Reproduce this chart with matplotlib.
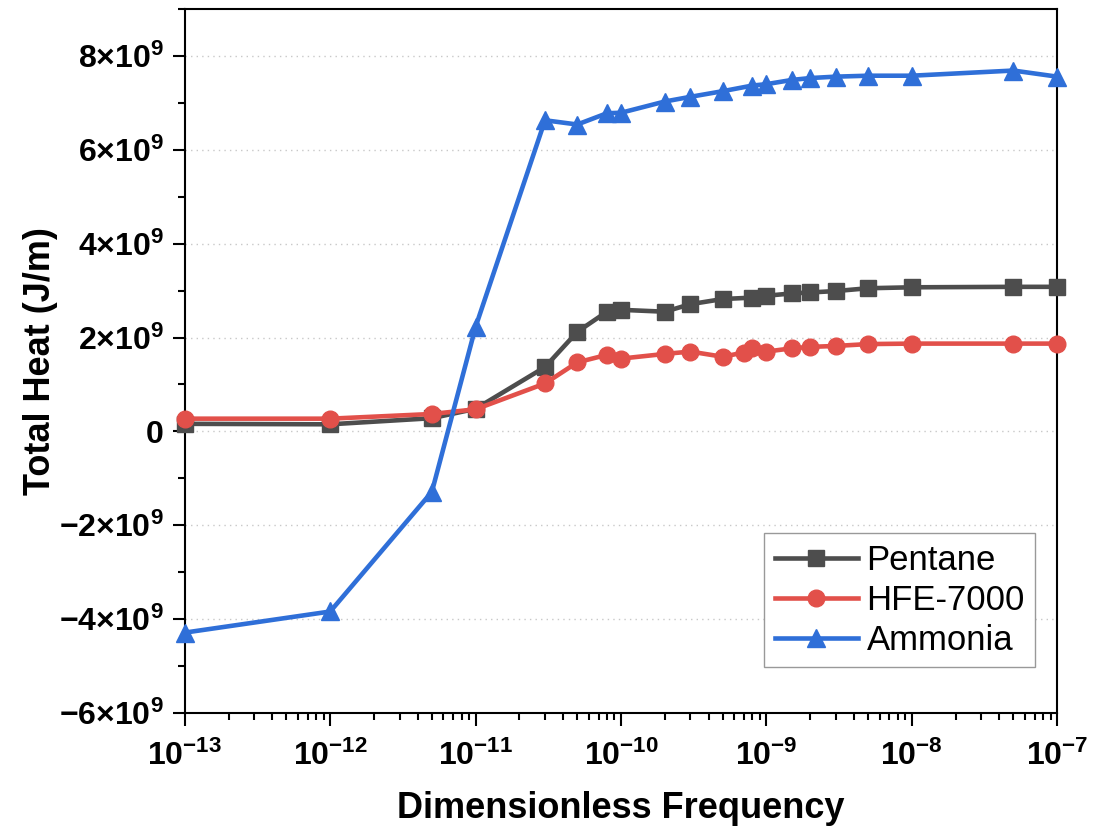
import matplotlib
matplotlib.use("Agg")
import matplotlib.pyplot as plt
import matplotlib.ticker as mticker

plt.rcParams.update({
    "font.family": ["Liberation Sans", "DejaVu Sans"],
    "font.weight": "bold",
    "mathtext.fontset": "custom",
    "mathtext.rm": "Liberation Sans:bold",
    "mathtext.bf": "Liberation Sans:bold",
    "mathtext.it": "Liberation Sans:bold:italic",
    "axes.linewidth": 1.5,
})

# ---- data (total heat in units of 1e9 J/m) -----------------------------------
freq_pentane = [1e-13, 1e-12, 5e-12, 1e-11, 3e-11, 5e-11, 8e-11, 1e-10, 2e-10, 3e-10,
                5e-10, 8e-10, 1e-9, 1.5e-9, 2e-9, 3e-9, 5e-9, 1e-8, 5e-8, 1e-7]
heat_pentane = [0.16, 0.15, 0.28, 0.48, 1.37, 2.12, 2.55, 2.59, 2.55, 2.71,
                2.82, 2.85, 2.89, 2.94, 2.96, 2.99, 3.05, 3.07, 3.08, 3.08]

freq_hfe = [1e-13, 1e-12, 5e-12, 1e-11, 3e-11, 5e-11, 8e-11, 1e-10, 2e-10, 3e-10,
            5e-10, 7e-10, 8e-10, 1e-9, 1.5e-9, 2e-9, 3e-9, 5e-9, 1e-8, 5e-8, 1e-7]
heat_hfe = [0.27, 0.27, 0.37, 0.47, 1.02, 1.47, 1.63, 1.55, 1.65, 1.70,
            1.59, 1.68, 1.77, 1.70, 1.77, 1.80, 1.82, 1.86, 1.87, 1.87, 1.87]

freq_ammonia = [1e-13, 1e-12, 5e-12, 1e-11, 3e-11, 5e-11, 8e-11, 1e-10, 2e-10, 3e-10,
                5e-10, 8e-10, 1e-9, 1.5e-9, 2e-9, 3e-9, 5e-9, 1e-8, 5e-8, 1e-7]
heat_ammonia = [-4.29, -3.84, -1.29, 2.23, 6.63, 6.54, 6.78, 6.79, 7.03, 7.13,
                7.25, 7.37, 7.40, 7.49, 7.53, 7.56, 7.58, 7.58, 7.69, 7.56]

SCALE = 1e9
series = [
    ("Pentane", freq_pentane, heat_pentane, "#4d4d4d", "s"),
    ("HFE-7000", freq_hfe, heat_hfe, "#e2504a", "o"),
    ("Ammonia", freq_ammonia, heat_ammonia, "#2f6fd8", "^"),
]

fig = plt.figure(figsize=(11.07, 8.26), dpi=100)
ax = fig.add_axes([0.167, 0.137, 0.788, 0.852])

for label, xs, ys, color, mk in series:
    ax.plot(xs, [v * SCALE for v in ys], color=color, marker=mk, lw=3.3,
            ms=12 if mk != "^" else 13, label=label, zorder=3, clip_on=False)

ax.set_xscale("log")
ax.set_xlim(1e-13, 1e-7)
ax.set_ylim(-6e9, 9e9)

ax.xaxis.set_major_locator(mticker.LogLocator(base=10, numticks=10))
ax.xaxis.set_minor_locator(mticker.LogLocator(base=10, subs=range(2, 10), numticks=20))
ax.xaxis.set_minor_formatter(mticker.NullFormatter())

ax.yaxis.set_major_locator(mticker.MultipleLocator(2e9))
ax.yaxis.set_minor_locator(mticker.MultipleLocator(1e9))


def sci_fmt(v, _):
    if abs(v) < 1:
        return "0"
    m = v / SCALE
    return r"$%d{\times}10^{9}$" % round(m)


ax.yaxis.set_major_formatter(mticker.FuncFormatter(sci_fmt))

ax.tick_params(axis="both", which="major", direction="out", length=9, width=1.5,
               labelsize=23, pad=6)
ax.tick_params(axis="x", which="major", pad=11)
ax.tick_params(axis="both", which="minor", direction="out", length=5, width=1.5)
ax.tick_params(top=False, right=False, which="both")

ax.grid(axis="y", which="major", color="#c8c8c8", lw=1, ls=(0, (1, 3)), zorder=0)

ax.set_xlabel("Dimensionless Frequency", fontsize=26, fontweight="bold", labelpad=14)
ax.set_ylabel("Total Heat (J/m)", fontsize=26, fontweight="bold", labelpad=1)

leg = ax.legend(loc="lower right", bbox_to_anchor=(0.975, 0.065), borderaxespad=0,
                fancybox=False, framealpha=1, edgecolor="#999999",
                prop={"size": 25, "weight": "normal"}, handlelength=2.4,
                handletextpad=0.25, labelspacing=0.2, borderpad=0.3)
leg.get_frame().set_linewidth(1.0)

fig.savefig("out.png", dpi=100)
